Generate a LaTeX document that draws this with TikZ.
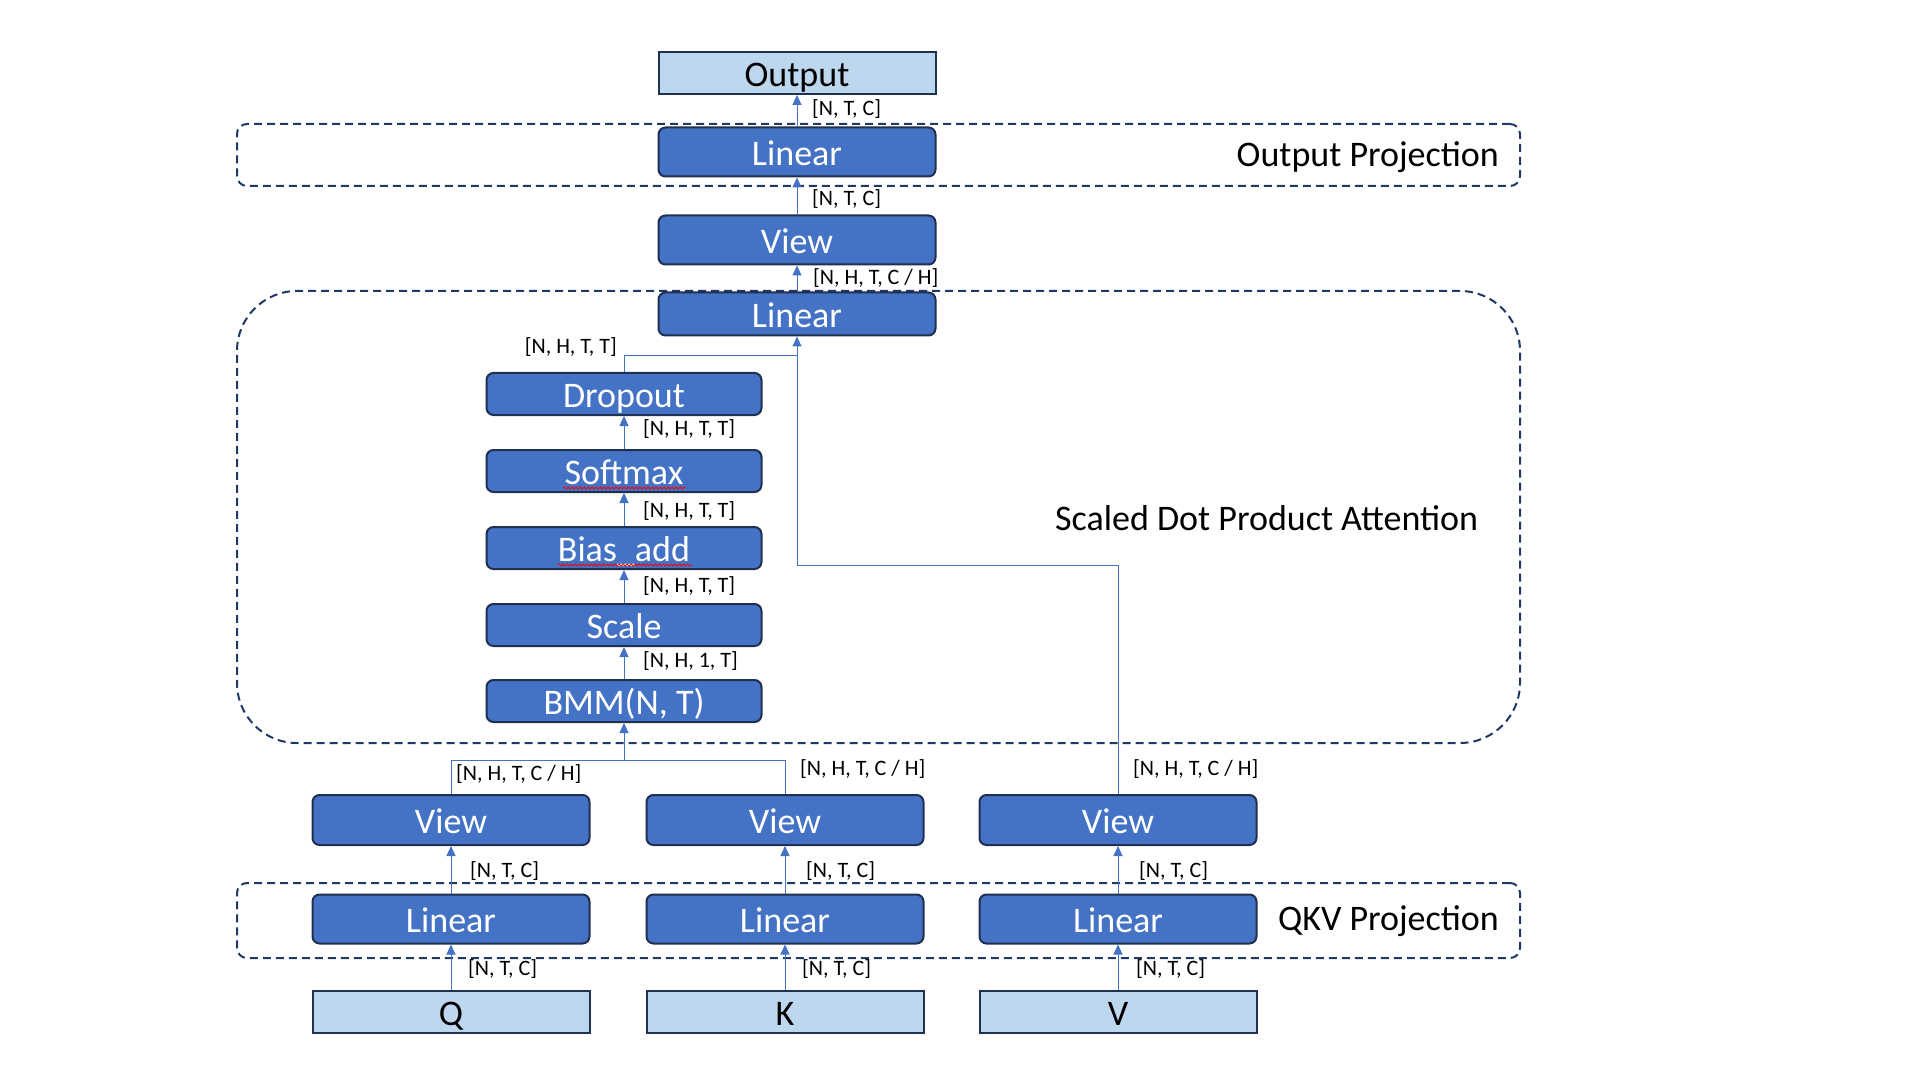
\documentclass[tikz,border=0pt]{standalone}
\usepackage{fontspec}
\setmainfont{Carlito}
\usetikzlibrary{arrows.meta,decorations.pathmorphing}
\definecolor{boxblue}{HTML}{4472C4}
\definecolor{boxedge}{HTML}{1F3050}
\definecolor{lightblue}{HTML}{BDD7EE}
\definecolor{linkblue}{HTML}{4472C4}
\definecolor{frameblue}{HTML}{1F3864}
\tikzset{
  dbox/.style={draw=boxedge, line width=2pt, fill=boxblue, rounded corners=7pt, text=white,
    minimum width=277pt, minimum height=49pt, inner sep=0pt, text height=27pt, text depth=0pt,
    font=\fontsize{36}{40}\selectfont},
  lbox/.style={draw=boxedge, line width=2pt, fill=lightblue, text=black,
    minimum width=277pt, minimum height=42pt, inner sep=0pt, text height=27pt, text depth=0pt,
    font=\fontsize{36}{40}\selectfont},
  frame/.style={draw=frameblue, line width=2pt, dash pattern=on 8pt off 5pt, inner sep=0pt},
  link/.style={draw=linkblue, line width=1pt},
  arr/.style={link, -{Triangle[length=10pt,width=9pt]}},
  dim/.style={font=\fontsize{22}{24}\selectfont, inner sep=0pt},
  sect/.style={font=\fontsize{36}{40}\selectfont, inner sep=0pt},
  squig/.style={draw=red, line width=0.8pt, decorate, decoration={snake, amplitude=1pt, segment length=4pt}}
}
\begin{document}
\begin{tikzpicture}[x=1pt,y=-1pt]
\useasboundingbox (0,0) rectangle (1923,1083);
% frames
\node[frame, rounded corners=10pt, minimum width=1283pt, minimum height=62pt] (fout) at (878.5,155) {};
\node[frame, rounded corners=60pt, minimum width=1283pt, minimum height=452pt] (fsdpa) at (878.5,517) {};
\node[frame, rounded corners=10pt, minimum width=1283pt, minimum height=75pt] (fqkv) at (878.5,920.5) {};
% section labels
\node[sect, anchor=east] (tout) at (1499,157) {Output Projection};
\node[sect, anchor=west] (tsdpa) at (1055,518) {Scaled Dot Product Attention};
\node[sect, anchor=east] (tqkv) at (1499,921) {QKV Projection};
% top column
\node[lbox] (out) at (797,73) {Output};
\node[dbox] (lin3) at (797,152) {Linear};
\node[dbox] (view3) at (797,240) {View};
\node[dbox, minimum height=43pt] (lin2) at (797,314) {Linear};
% attention column
\node[dbox, minimum width=275pt, minimum height=42pt] (drop) at (624,394) {Dropout};
\node[dbox, minimum width=275pt, minimum height=42pt] (soft) at (624,471) {Softmax};
\node[dbox, minimum width=275pt, minimum height=42pt] (bias) at (624,548) {Bias\_add};
\node[dbox, minimum width=275pt, minimum height=42pt] (scale) at (624,625) {Scale};
\node[dbox, minimum width=275pt, minimum height=42pt] (bmm) at (624,701) {BMM(N, T)};
% lower rows
\node[dbox, minimum height=50pt] (vq) at (451,820) {View};
\node[dbox, minimum height=50pt] (vk) at (785,820) {View};
\node[dbox, minimum height=50pt] (vv) at (1118,820) {View};
\node[dbox] (lq) at (451,919) {Linear};
\node[dbox] (lk) at (785,919) {Linear};
\node[dbox] (lv) at (1118,919) {Linear};
\node[lbox] (q) at (451,1012) {Q};
\node[lbox] (k) at (785,1012) {K};
\node[lbox] (v) at (1118,1012) {V};
% spell-check squiggles
\coordinate (sqa) at (563,488);
\coordinate (sqb) at (686,488);
\coordinate (sqc) at (558,565);
\coordinate (sqd) at (692,565);
\draw[squig] (sqa) -- (sqb);
\draw[squig] (sqc) -- (sqd);
% connectors
\draw[arr] (q.north) -- (lq.south);
\draw[arr] (k.north) -- (lk.south);
\draw[arr] (v.north) -- (lv.south);
\draw[arr] (lq.north) -- (vq.south);
\draw[arr] (lk.north) -- (vk.south);
\draw[arr] (lv.north) -- (vv.south);
\coordinate (join) at (624,760);
\draw[link] (vq.north) |- (join);
\draw[link] (vk.north) |- (join);
\draw[arr] (join) -- (bmm.south);
\draw[arr] (bmm.north) -- (scale.south);
\draw[arr] (scale.north) -- (bias.south);
\draw[arr] (bias.north) -- (soft.south);
\draw[arr] (soft.north) -- (drop.south);
\coordinate (vbend) at (797,565);
\coordinate (djoin) at (797,356);
\draw[arr] (vv.north) |- (vbend) -- (lin2.south);
\draw[link] (drop.north) |- (djoin);
\draw[arr] (lin2.north) -- (view3.south);
\draw[arr] (view3.north) -- (lin3.south);
\draw[arr] (lin3.north) -- (out.south);
% dimension labels
\node[dim, anchor=west] (d1) at (812,109) {[N, T, C]};
\node[dim, anchor=west] (d2) at (812,199) {[N, T, C]};
\node[dim, anchor=west] (d3) at (813,278) {[N, H, T, C / H]};
\node[dim, anchor=east] (d4) at (617,347) {[N, H, T, T]};
\node[dim, anchor=west] (d5) at (643,429) {[N, H, T, T]};
\node[dim, anchor=west] (d6) at (643,511) {[N, H, T, T]};
\node[dim, anchor=west] (d7) at (643,586) {[N, H, T, T]};
\node[dim, anchor=west] (d8) at (643,661) {[N, H, 1, T]};
\node[dim, anchor=west] (d9) at (456,774) {[N, H, T, C / H]};
\node[dim, anchor=west] (d10) at (800,769) {[N, H, T, C / H]};
\node[dim, anchor=west] (d11) at (1133,769) {[N, H, T, C / H]};
\node[dim, anchor=west] (d12) at (470,871) {[N, T, C]};
\node[dim, anchor=west] (d13) at (806,871) {[N, T, C]};
\node[dim, anchor=west] (d14) at (1139,871) {[N, T, C]};
\node[dim, anchor=west] (d15) at (468,969) {[N, T, C]};
\node[dim, anchor=west] (d16) at (802,969) {[N, T, C]};
\node[dim, anchor=west] (d17) at (1136,969) {[N, T, C]};
\end{tikzpicture}
\end{document}
